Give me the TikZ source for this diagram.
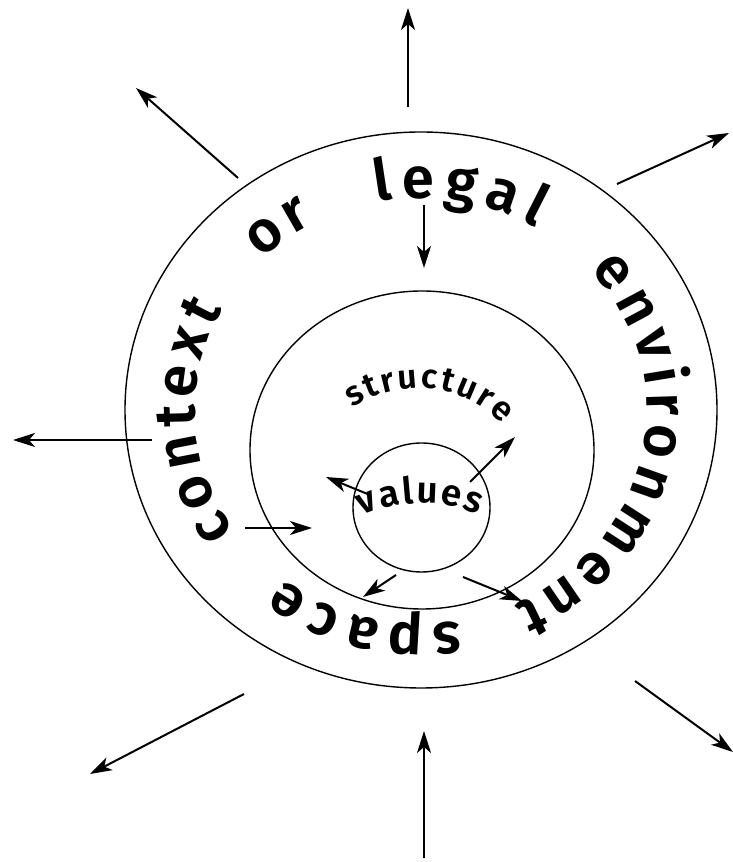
\documentclass[tikz,border=0pt]{standalone}
\usepackage{fontspec}
\setmainfont{Fira Sans}[BoldFont={Fira Sans SemiBold}]
\usetikzlibrary{arrows.meta,decorations.text,shapes.geometric}
\tikzset{
  ring/.style={draw,ellipse,line width=1.4pt,inner sep=0pt,outer sep=0pt},
  arr/.style={line width=2pt,-{Stealth[length=22pt,width=14pt,inset=6pt]}},
  ringtext/.style={decorate,decoration={text along path,text align={fit to path},text={|\fontsize{58}{58}\selectfont\bfseries|#1}}},
  smalltext/.style={decorate,decoration={text along path,text align={fit to path},text={|\fontsize{34}{34}\selectfont\bfseries|#1}}},
  valtext/.style={decorate,decoration={text along path,text align={fit to path},text={|\fontsize{37}{37}\selectfont\bfseries|#1}}},
}
\begin{document}
\begin{tikzpicture}[x=1pt,y=1pt]
\useasboundingbox (0,0) rectangle (733,862);
% rings
\node[ring,minimum width=592pt,minimum height=556pt] (outer) at (421,452) {};
\node[ring,minimum width=344pt,minimum height=318pt] (middle) at (422,412) {};
\node[ring,minimum width=137pt,minimum height=129pt] (inner) at (421.5,354.5) {};
% curved texts of the outer band
\path[ringtext={context}] (234.5,330.7) arc[start angle=214.4,end angle=151.4,x radius=226,y radius=213];
\path[ringtext={or}] (262.3,602.7) arc[start angle=134.6,end angle=118.4,x radius=226,y radius=213];
\path[ringtext={legal}] (376.7,659.9) arc[start angle=101.3,end angle=59.4,x radius=226,y radius=213];
\path[ringtext={environment}] (590.5,591.9) arc[start angle=41.4,end angle=-65.6,x radius=226,y radius=213];
\path[ringtext={space}] (459.9,241.2) arc[start angle=-80.1,end angle=-127.8,x radius=226,y radius=213];
% inner texts
\path[smalltext={structure}] (352.57,454.0) arc[start angle=124,end angle=44,radius=117];
\path[valtext={values}] (361.83,345.88) arc[start angle=115,end angle=66,radius=140];
% arrow end points
\coordinate (a1s) at (408,755); \coordinate (a1e) at (408,854);
\coordinate (a2s) at (238,684); \coordinate (a2e) at (136,774);
\coordinate (a3s) at (617,678); \coordinate (a3e) at (729,729);
\coordinate (a4s) at (152,422); \coordinate (a4e) at (13,422);
\coordinate (a5s) at (244,168); \coordinate (a5e) at (90,88);
\coordinate (a6s) at (424,4);   \coordinate (a6e) at (424,131);
\coordinate (a7s) at (635,181); \coordinate (a7e) at (733,110);
\coordinate (b1s) at (424,657); \coordinate (b1e) at (424,594);
\coordinate (b2s) at (245,334); \coordinate (b2e) at (312,334);
\coordinate (c1s) at (470,380); \coordinate (c1e) at (515,425);
\coordinate (c2s) at (370,367); \coordinate (c2e) at (326,385);
\coordinate (c3s) at (396,287); \coordinate (c3e) at (363,265);
\coordinate (c4s) at (463,285); \coordinate (c4e) at (522,261);
\foreach \n in {a1,a2,a3,a4,a5,a6,a7,b1,b2,c1,c2,c3,c4}
  \draw[arr] (\n s) -- (\n e);
\end{tikzpicture}
\end{document}
